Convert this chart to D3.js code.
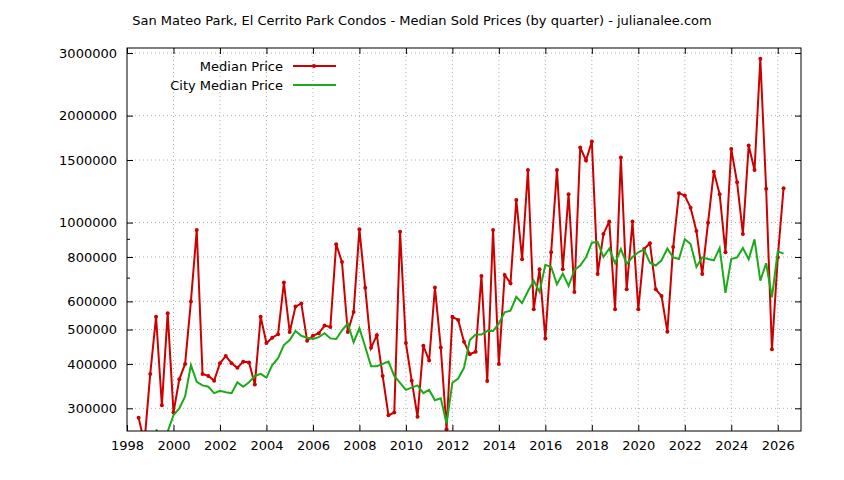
<!DOCTYPE html>
<html><head><meta charset="utf-8">
<script src="https://cdn.jsdelivr.net/npm/d3@7"></script>
<style>body{margin:0;background:#fff}text{font-family:"DejaVu Sans",sans-serif}</style>
</head><body><svg id="c" width="844" height="480"></svg>
<script>
const title = "San Mateo Park, El Cerrito Park Condos - Median Sold Prices (by quarter) - julianalee.com";
const medianStart = 1998.5;
const medianPrice = [282,240,375,543,306,556,292,362,400,600,953,375,370,359,402,421,402,390,406,404,350,543,458,474,485,678,492,580,592,465,480,488,513,508,869,774,492,560,957,655,444,482,370,287,292,942,458,359,284,450,409,656,445,262,543,532,462,426,433,707,358,953,400,712,675,1158,789,1406,570,739,472,825,1406,739,1202,638,1627,1496,1690,716,929,1007,570,1524,649,1007,570,843,875,649,621,493,853,1210,1192,1101,947,716,998,1390,1202,825,1610,1298,929,1648,1406,2890,1245,440,798,1250].map(v=>v*1000);
const cityStart = 1999.25;
const cityPrice = [262,245,258,287,300,324,397,356,348,345,331,336,333,331,355,345,355,370,375,366,397,415,452,467,495,480,474,470,476,488,472,470,497,520,460,504,447,394,394,400,406,370,354,338,343,348,331,338,316,320,272,354,364,390,467,484,484,495,495,520,559,565,618,594,641,686,638,760,750,670,718,663,735,757,798,878,882,800,845,768,843,765,800,825,839,771,757,783,845,798,790,897,870,750,798,790,783,848,634,790,798,848,788,897,686,768,616,830,818].map(v=>v*1000);
const xTicks = [1998,2000,2002,2004,2006,2008,2010,2012,2014,2016,2018,2020,2022,2024,2026];
const yTicks = [300000,400000,500000,600000,800000,1000000,1500000,2000000,3000000];
const yMinor = [700000,900000];

const L=127,R=801,T=48,B=431;
const svg=d3.select("#c");
const x=d3.scaleLinear().domain([1998,2027]).range([L,R]);
const y=d3.scaleLog().domain([259000,3100000]).range([B,T]);
svg.append("text").attr("x",422).attr("y",25).attr("text-anchor","middle").attr("font-size",13).text(title);
const g=svg.append("g");
// grid
g.selectAll(".gx").data(xTicks.filter(t=>t>1998)).join("line").attr("x1",d=>x(d)).attr("x2",d=>x(d)).attr("y1",T).attr("y2",B).attr("stroke","#999").attr("stroke-width",0.8).attr("stroke-dasharray","1,3");
g.selectAll(".gy").data(yTicks).join("line").attr("x1",L).attr("x2",R).attr("y1",d=>y(d)).attr("y2",d=>y(d)).attr("stroke","#999").attr("stroke-width",0.8).attr("stroke-dasharray","1,3");
// axes
const ax=d3.axisBottom(x).tickValues(xTicks).tickFormat(d3.format("d")).tickSizeInner(-6).tickSizeOuter(0).tickPadding(10);
svg.append("g").attr("transform",`translate(0,${B})`).call(ax).call(s=>{s.select(".domain").remove();s.selectAll("text").attr("font-size",13).attr("fill","#000")});
svg.append("g").attr("transform",`translate(0,${T})`).call(d3.axisTop(x).tickValues(xTicks).tickFormat("").tickSizeInner(-6).tickSizeOuter(0)).call(s=>s.select(".domain").remove());
const ay=d3.axisLeft(y).tickValues(yTicks).tickFormat(d3.format("d")).tickSizeInner(-6).tickSizeOuter(0).tickPadding(10);
svg.append("g").attr("transform",`translate(${L},0)`).call(ay).call(s=>{s.select(".domain").remove();s.selectAll("text").attr("font-size",13).attr("fill","#000")});
svg.append("g").attr("transform",`translate(${R},0)`).call(d3.axisRight(y).tickValues(yTicks).tickFormat("").tickSizeInner(-6).tickSizeOuter(0)).call(s=>s.select(".domain").remove());
svg.append("g").attr("transform",`translate(${L},0)`).call(d3.axisLeft(y).tickValues(yMinor).tickFormat("").tickSizeInner(-3).tickSizeOuter(0)).call(s=>s.select(".domain").remove());
svg.append("g").attr("transform",`translate(${R},0)`).call(d3.axisRight(y).tickValues(yMinor).tickFormat("").tickSizeInner(-3).tickSizeOuter(0)).call(s=>s.select(".domain").remove());
svg.append("defs").append("clipPath").attr("id","clip").append("rect").attr("x",L).attr("y",T).attr("width",R-L).attr("height",B-T);
const med=medianPrice.map((v,i)=>[medianStart+i*0.25,v]);
const city=cityPrice.map((v,i)=>[cityStart+i*0.25,v]);
const line=d3.line().x(d=>x(d[0])).y(d=>y(d[1]));
const pg=svg.append("g").attr("clip-path","url(#clip)");
pg.append("path").datum(med).attr("d",line).attr("fill","none").attr("stroke","#cc0000").attr("stroke-width",2);
pg.selectAll(".pt").data(med).join("circle").attr("cx",d=>x(d[0])).attr("cy",d=>y(d[1])).attr("r",2).attr("fill","#cc0000");
pg.append("path").datum(city).attr("d",line).attr("fill","none").attr("stroke","#1aaa1a").attr("stroke-width",2);
svg.append("rect").attr("x",L).attr("y",T).attr("width",R-L).attr("height",B-T).attr("fill","none").attr("stroke","#000").attr("stroke-width",1);
// legend
const lg=svg.append("g");
lg.append("text").attr("x",283).attr("y",71).attr("text-anchor","end").attr("font-size",13).text("Median Price");
lg.append("line").attr("x1",293).attr("x2",336).attr("y1",66).attr("y2",66).attr("stroke","#cc0000").attr("stroke-width",2);
lg.append("circle").attr("cx",314).attr("cy",66).attr("r",2).attr("fill","#cc0000");
lg.append("text").attr("x",283).attr("y",90).attr("text-anchor","end").attr("font-size",13).text("City Median Price");
lg.append("line").attr("x1",293).attr("x2",336).attr("y1",85).attr("y2",85).attr("stroke","#1aaa1a").attr("stroke-width",2);
</script></body></html>
